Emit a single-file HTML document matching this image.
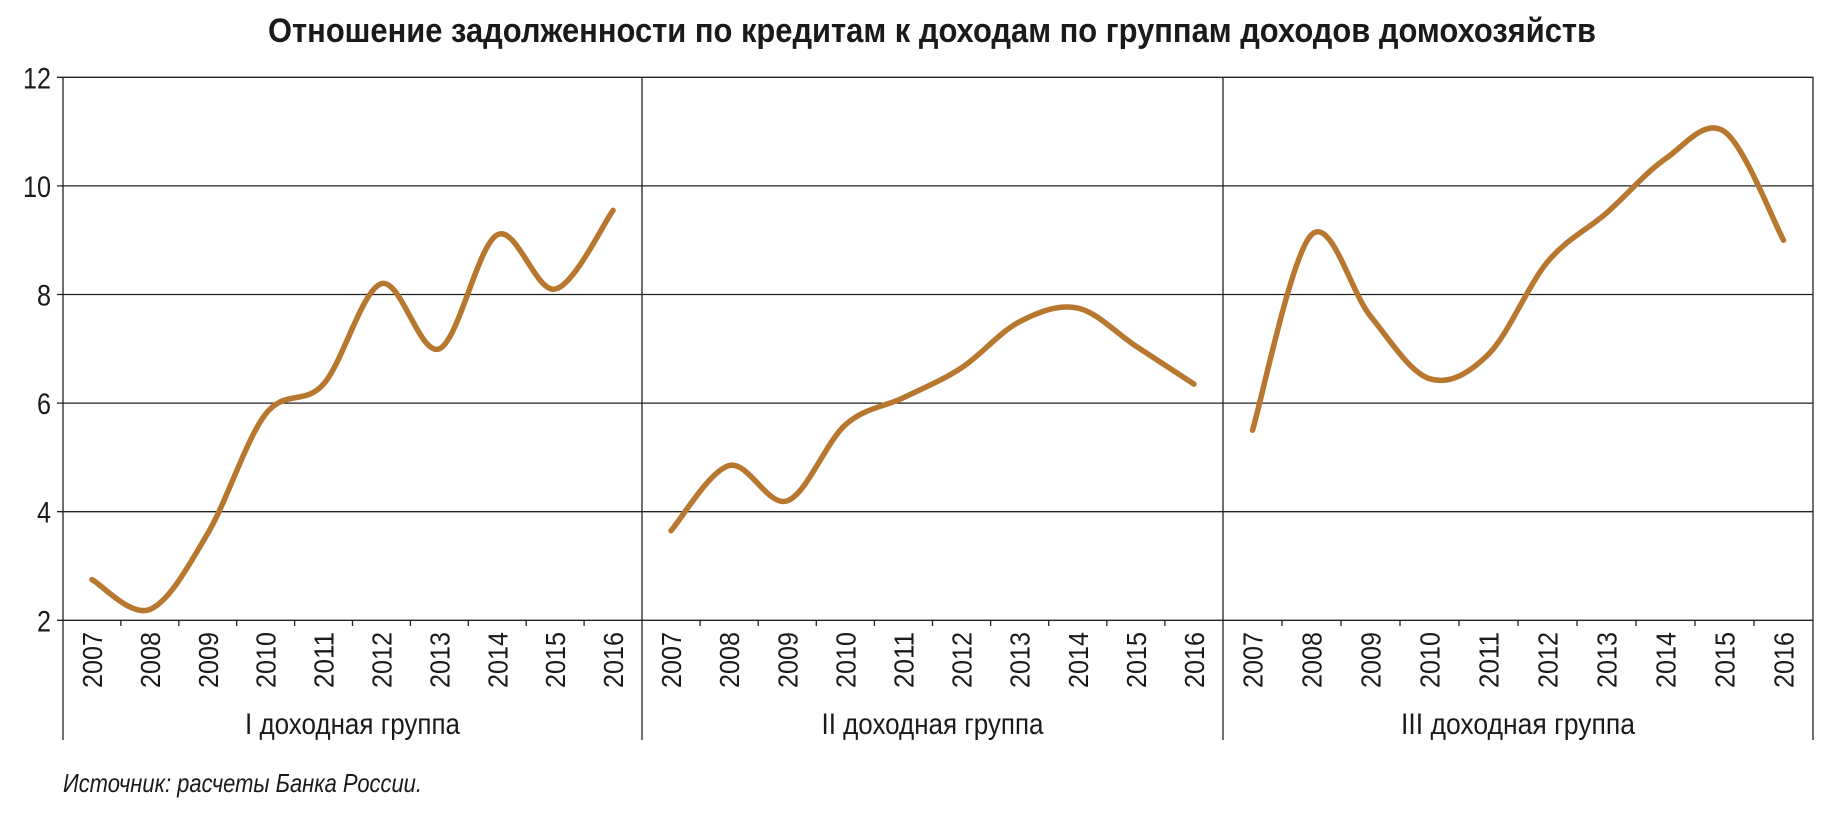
<!DOCTYPE html>
<html><head><meta charset="utf-8"><style>
html,body{margin:0;padding:0;background:#fff;}
svg{display:block;}
</style></head><body>
<svg id="s" width="1837" height="820" xmlns="http://www.w3.org/2000/svg" font-family="'Liberation Sans Narrow','Liberation Sans',sans-serif">
<text x="932" y="42" text-anchor="middle" font-size="34" font-weight="bold" fill="#1a1a1a" textLength="1328" lengthAdjust="spacingAndGlyphs">Отношение задолженности по кредитам к доходам по группам доходов домохозяйств</text>
<g id="g"></g>
<text x="63" y="792" font-size="26" font-style="italic" fill="#1a1a1a" textLength="359" lengthAdjust="spacingAndGlyphs">Источник: расчеты Банка России.</text>
</svg>
<script>
var NS="http://www.w3.org/2000/svg",g=document.getElementById('g');
function el(t,a,txt){var e=document.createElementNS(NS,t);for(var k in a)e.setAttribute(k,a[k]);if(txt)e.textContent=txt;g.appendChild(e);return e;}
var X=[63,642,1223,1813],Y=function(v){return 620.3-(v-2)*54.3;};
for(var v=2;v<=12;v+=2){el('line',{x1:57,x2:1813,y1:Y(v),y2:Y(v),stroke:'#222','stroke-width':1.3});
el('text',{x:51,y:Y(v)+11,'text-anchor':'end','font-size':30,fill:'#1a1a1a',textLength:v<10?14:28,lengthAdjust:'spacingAndGlyphs'},String(v));}
for(var i=0;i<4;i++)el('line',{x1:X[i],x2:X[i],y1:77,y2:740,stroke:'#222','stroke-width':1.3});
var data=[[2.75,2.2,3.6,5.8,6.35,8.2,7.0,9.1,8.1,9.55],[3.65,4.85,4.2,5.6,6.1,6.65,7.5,7.75,7.05,6.35],[5.5,9.1,7.6,6.45,6.9,8.6,9.5,10.5,11.0,9.0]];
var names=['I доходная группа','II доходная группа','III доходная группа'],nw=[215,222,234];
for(var p=0;p<3;p++){var x0=X[p],w=(X[p+1]-X[p])/10,pts=[];
for(var k=1;k<10;k++)el('line',{x1:x0+k*w,x2:x0+k*w,y1:620,y2:626,stroke:'#222','stroke-width':1.3});
for(var k=0;k<10;k++){var cx=x0+(k+0.5)*w;pts.push([cx,Y(data[p][k])]);
el('text',{transform:'translate('+(cx+10)+',688) rotate(-90)','font-size':28,fill:'#1a1a1a',textLength:56,lengthAdjust:'spacingAndGlyphs'},String(2007+k));}
el('text',{x:(X[p]+X[p+1])/2,y:734,'text-anchor':'middle','font-size':30,fill:'#1a1a1a',textLength:nw[p],lengthAdjust:'spacingAndGlyphs'},names[p]);
var d='M'+pts[0][0]+','+pts[0][1];
for(var k=0;k<9;k++){var a=pts[k>0?k-1:0],b=pts[k],c=pts[k+1],e=pts[k<8?k+2:9];
d+=' C'+(b[0]+(c[0]-a[0])/6)+','+(b[1]+(c[1]-a[1])/6)+' '+(c[0]-(e[0]-b[0])/6)+','+(c[1]-(e[1]-b[1])/6)+' '+c[0]+','+c[1];}
el('path',{d:d,fill:'none',stroke:'#b8772f','stroke-width':5.5,'stroke-linecap':'round'});}
</script>
</body></html>
